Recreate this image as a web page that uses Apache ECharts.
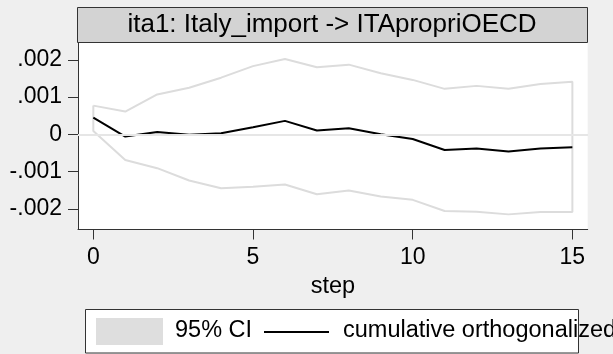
<!DOCTYPE html>
<html>
<head>
<meta charset="utf-8">
<script src="https://cdn.jsdelivr.net/npm/echarts@6/dist/echarts.min.js"></script>
<style>
  html, body { margin: 0; padding: 0; background: #efefef; }
  #chart { width: 613px; height: 354px; }
</style>
</head>
<body>
<div id="chart"></div>
<script>
// Cumulative orthogonalized IRF, impulse Italy_import, response ITApropriOECD
const steps = [0, 1, 2, 3, 4, 5, 6, 7, 8, 9, 10, 11, 12, 13, 14, 15];
const irf = [0.00045, -0.00006, 0.00006, -0.00001, 0.00003, 0.00019, 0.00036, 0.00010,
             0.00016, 0.00000, -0.000125, -0.00042, -0.00038, -0.00046, -0.00038, -0.00035];
const ciUpper = [0.00077, 0.00061, 0.00107, 0.00125, 0.00152, 0.00183, 0.00202, 0.00180,
                 0.00187, 0.00164, 0.00146, 0.00122, 0.00130, 0.00122, 0.00135, 0.00141];
const ciLower = [0.00009, -0.00069, -0.00091, -0.00124, -0.00145, -0.00141, -0.00135, -0.00161,
                 -0.00151, -0.00167, -0.00176, -0.00206, -0.00208, -0.00215, -0.002085, -0.002085];
const xTicks = [0, 5, 10, 15];
const yTicks = [-0.002, -0.001, 0, 0.001, 0.002];
const panelTitle = 'ita1: Italy_import -> ITApropriOECD';
const xTitle = 'step';
const legendLabels = ['95% CI', 'cumulative orthogonalized irf'];

const FONT = '"Liberation Sans", Arial, Helvetica, sans-serif';

// Outline of the confidence band: upper bound forward, lower bound back, closed
const ciOutline = [];
steps.forEach((s, i) => ciOutline.push([s, ciUpper[i]]));
for (let i = steps.length - 1; i >= 0; i--) ciOutline.push([steps[i], ciLower[i]]);
ciOutline.push([steps[0], ciUpper[0]]);

const irfData = steps.map((s, i) => [s, irf[i]]);

function fmtY(v) {
  if (v === 0) return '0';
  return (v < 0 ? '-' : '') + String(Math.abs(v)).replace(/^0/, '');
}

const chart = echarts.init(document.getElementById('chart'), null, { renderer: 'canvas' });
chart.setOption({
  animation: false,
  backgroundColor: '#efefef',
  textStyle: { fontFamily: FONT },
  grid: {
    left: 78, right: 25.3, top: 42.7, bottom: 124.5,
    show: true, backgroundColor: '#ffffff', borderWidth: 0
  },
  xAxis: {
    type: 'value', min: -0.48, max: 15.48,
    name: xTitle, nameLocation: 'middle', nameGap: 44,
    nameTextStyle: { fontSize: 23.5, color: '#000', fontFamily: FONT },
    axisLine: { show: true, onZero: false, lineStyle: { color: '#333', width: 1 } },
    axisTick: { show: true, length: 10, customValues: xTicks, lineStyle: { color: '#333', width: 1 } },
    axisLabel: { customValues: xTicks, fontSize: 23, color: '#000', margin: 17, fontFamily: FONT },
    splitLine: { show: false }
  },
  yAxis: {
    type: 'value', min: -0.002556, max: 0.002459,
    axisLine: { show: true, onZero: false, lineStyle: { color: '#333', width: 1 } },
    axisTick: { show: true, length: 10, customValues: yTicks, lineStyle: { color: '#333', width: 1 } },
    axisLabel: { customValues: yTicks, formatter: fmtY, fontSize: 23, color: '#000', margin: 16, fontFamily: FONT },
    splitLine: { show: false }
  },
  series: [
    {
      // horizontal grid lines at the labelled y values
      type: 'line', data: [], z: 1, silent: true,
      markLine: {
        silent: true, symbol: ['none', 'none'], label: { show: false },
        lineStyle: { color: '#e6e6e6', width: 2, type: 'solid' },
        data: yTicks.map(v => ({ yAxis: v }))
      }
    },
    {
      name: legendLabels[0], type: 'line', data: ciOutline, z: 2,
      showSymbol: false, symbol: 'none',
      lineStyle: { color: '#dcdcdc', width: 2 }
    },
    {
      name: legendLabels[1], type: 'line', data: irfData, z: 3,
      showSymbol: false, symbol: 'none',
      lineStyle: { color: '#000', width: 2 }
    }
  ],
  graphic: [
    {
      type: 'rect', z: 100,
      shape: { x: 77.5, y: 7.5, width: 510, height: 35 },
      style: { fill: '#d3d3d3', stroke: '#333', lineWidth: 1 }
    },
    {
      type: 'text', z: 101, x: 332, y: 25,
      style: { text: panelTitle, fill: '#000', font: '26px ' + FONT, align: 'center', verticalAlign: 'middle' }
    },
    {
      type: 'rect', z: 100,
      shape: { x: 85.5, y: 309.5, width: 493, height: 43.5 },
      style: { fill: '#ffffff', stroke: '#333', lineWidth: 1 }
    },
    {
      type: 'rect', z: 101,
      shape: { x: 96, y: 318, width: 67, height: 27 },
      style: { fill: '#dedede' }
    },
    {
      type: 'text', z: 101, x: 175, y: 331,
      style: { text: legendLabels[0], fill: '#000', font: '23.5px ' + FONT, align: 'left', verticalAlign: 'middle' }
    },
    {
      type: 'line', z: 101,
      shape: { x1: 264, y1: 332, x2: 329, y2: 332 },
      style: { stroke: '#000', lineWidth: 2 }
    },
    {
      type: 'text', z: 101, x: 343, y: 331,
      style: { text: legendLabels[1], fill: '#000', font: '23.5px ' + FONT, align: 'left', verticalAlign: 'middle' }
    }
  ]
});
</script>
</body>
</html>
